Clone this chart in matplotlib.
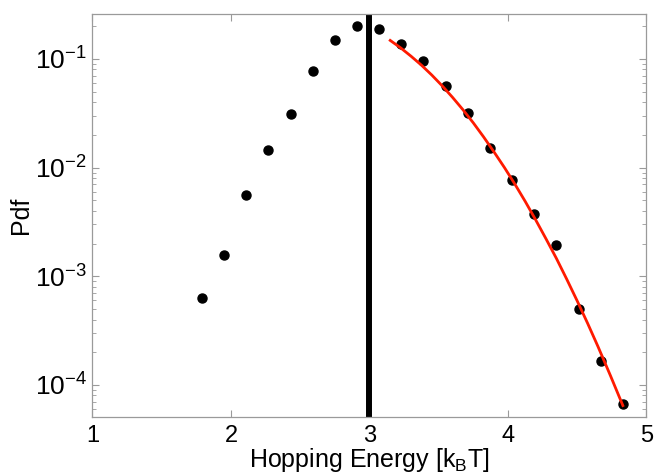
import numpy as np
import matplotlib
matplotlib.use('Agg')
import matplotlib.pyplot as plt

# %% Data
energy = [1.79, 1.95, 2.11, 2.27, 2.43, 2.59, 2.75, 2.91, 3.07, 3.23,
          3.39, 3.55, 3.71, 3.87, 4.03, 4.19, 4.35, 4.51, 4.67, 4.83]
pdf = [6.3e-4, 1.57e-3, 5.6e-3, 0.0145, 0.0314, 0.077, 0.150, 0.202, 0.187,
       0.138, 0.0953, 0.0568, 0.0317, 0.0153, 0.0077, 0.00373, 0.00194,
       0.000498, 0.000166, 6.7e-5]

# red fitted tail
fit_energy = [3.15, 3.225, 3.30, 3.375, 3.45, 3.525, 3.60, 3.675, 3.75,
              3.825, 3.90, 3.975, 4.05, 4.125, 4.20, 4.275, 4.35, 4.425,
              4.50, 4.575, 4.65, 4.74, 4.83]
fit_pdf = [0.148, 0.1265, 0.106, 0.0877, 0.0711, 0.0566, 0.0443, 0.0341,
           0.0258, 0.0191, 0.0139, 0.0100, 0.00705, 0.00488, 0.00331,
           0.00221, 0.00146, 0.000938, 0.000594, 0.00037, 0.000226,
           0.000122, 6.46e-5]

threshold = 3.0

# %% Plot
plt.rcParams['font.family'] = ['Liberation Sans', 'DejaVu Sans']
plt.rcParams['mathtext.fontset'] = 'custom'
plt.rcParams['mathtext.rm'] = 'Liberation Sans'
plt.rcParams['mathtext.it'] = 'Liberation Sans:italic'

fig = plt.figure(figsize=(6.54, 4.73), dpi=100)
ax = fig.add_axes([0.1414, 0.119, 0.847, 0.851])

ax.plot(energy, pdf, 'o', color='black', markersize=6.5, zorder=3)
ax.plot(fit_energy, fit_pdf, '-', color='#ff1a00', linewidth=2.0, zorder=4)
ax.axvline(threshold, color='black', linewidth=4.3, zorder=2)

ax.set_yscale('log')
ax.set_xlim(1, 5)
ax.set_ylim(5.1e-5, 0.258)
ax.set_xticks([1, 2, 3, 4, 5])
ax.set_yticks([1e-4, 1e-3, 1e-2, 1e-1])

gray = '#9a9a9a'
for s in ax.spines.values():
    s.set_color(gray)
    s.set_linewidth(0.9)
ax.tick_params(which='both', direction='in', top=True, right=True,
               color=gray, labelcolor='black')
ax.tick_params(which='major', length=5)
ax.tick_params(which='minor', length=3)
ax.tick_params(axis='x', pad=6, labelsize=17)
ax.tick_params(axis='y', pad=4, labelsize=19)

ax.set_xlabel('Hopping Energy [k$_\\mathrm{B}$T]', fontsize=18, labelpad=-1)
ax.set_ylabel('Pdf', fontsize=18, labelpad=1)

fig.savefig('out.png', dpi=100)
